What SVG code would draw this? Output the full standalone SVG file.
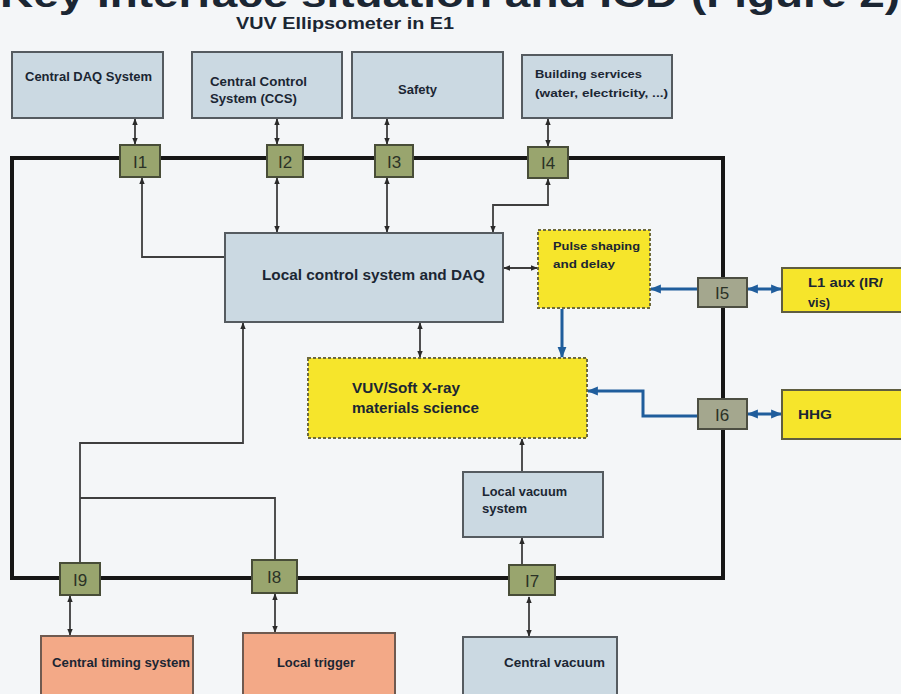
<svg xmlns="http://www.w3.org/2000/svg" width="901" height="694" viewBox="0 0 901 694">
<defs>
<marker id="ah" viewBox="0 0 10 10" refX="9" refY="5" markerWidth="7" markerHeight="7" markerUnits="userSpaceOnUse" orient="auto-start-reverse"><path d="M0,1 L10,5 L0,9 z" fill="#2a2a2a"/></marker>
<marker id="bh" viewBox="0 0 10 10" refX="9" refY="5" markerWidth="11" markerHeight="11" markerUnits="userSpaceOnUse" orient="auto-start-reverse"><path d="M0,1 L10,5 L0,9 z" fill="#1f5d9c"/></marker>
<style>
.t{font-family:"Liberation Sans",Arial,sans-serif;font-weight:bold;fill:#1b2633}
.gb{fill:#cbd9e2;stroke:#555b60;stroke-width:2}
.yb{fill:#f6e52b;stroke:#6e6a3c;stroke-width:2;stroke-dasharray:3 2}
.ys{fill:#f6e52b;stroke:#5f5d40;stroke-width:2}
.ob{fill:#f3a987;stroke:#6f5a50;stroke-width:2}
.ig{fill:#99a56e;stroke:#484d38;stroke-width:2}
.ip{fill:#a4a78e;stroke:#4c4e42;stroke-width:2}
.il{font-family:"Liberation Sans",Arial,sans-serif;font-size:17px;fill:#2b3226;text-anchor:middle}
.bus{fill:none;stroke:#161616;stroke-width:4}
.c{fill:none;stroke:#3e3e3e;stroke-width:1.8}
.cb{fill:none;stroke:#1f5d9c;stroke-width:3}
</style>
</defs>
<rect width="901" height="694" fill="#f4f6f8"/>
<text class="t" x="0" y="7" font-size="36" textLength="900" lengthAdjust="spacingAndGlyphs" fill="#222">Key Interface situation and ICD (Figure 2)</text>
<text class="t" x="236" y="29" font-size="17" textLength="218" lengthAdjust="spacingAndGlyphs">VUV Ellipsometer in E1</text>

<g id="connectors">
<path class="bus" d="M12,158 H723 V578 H12 Z"/>
<line class="c" x1="135" y1="119" x2="135" y2="144" marker-start="url(#ah)" marker-end="url(#ah)"/>
<line class="c" x1="277" y1="119" x2="277" y2="144" marker-start="url(#ah)" marker-end="url(#ah)"/>
<line class="c" x1="387" y1="119" x2="387" y2="144" marker-start="url(#ah)" marker-end="url(#ah)"/>
<line class="c" x1="548" y1="119" x2="548" y2="146" marker-start="url(#ah)" marker-end="url(#ah)"/>
<path class="c" d="M225,257 H142 V178" marker-end="url(#ah)"/>
<line class="c" x1="277" y1="178" x2="277" y2="232" marker-start="url(#ah)" marker-end="url(#ah)"/>
<line class="c" x1="387" y1="178" x2="387" y2="232" marker-start="url(#ah)" marker-end="url(#ah)"/>
<path class="c" d="M548,179 V205 H493 V232" marker-start="url(#ah)" marker-end="url(#ah)"/>
<line class="c" x1="504" y1="268" x2="537" y2="268" marker-start="url(#ah)" marker-end="url(#ah)"/>
<line class="c" x1="420" y1="323" x2="420" y2="357" marker-start="url(#ah)" marker-end="url(#ah)"/>
<line class="cb" x1="698" y1="289" x2="651" y2="289" marker-end="url(#bh)"/>
<line class="cb" x1="748" y1="289" x2="781" y2="289" marker-start="url(#bh)" marker-end="url(#bh)"/>
<line class="cb" x1="562" y1="309" x2="562" y2="357" marker-end="url(#bh)"/>
<path class="cb" d="M698,416 H643 V391 H588" marker-end="url(#bh)"/>
<line class="cb" x1="748" y1="414" x2="781" y2="414" marker-start="url(#bh)" marker-end="url(#bh)"/>
<line class="c" x1="522" y1="471" x2="522" y2="439" marker-end="url(#ah)"/>
<line class="c" x1="522" y1="564" x2="522" y2="538" marker-end="url(#ah)"/>
<line class="c" x1="529" y1="597" x2="529" y2="636" marker-start="url(#ah)" marker-end="url(#ah)"/>
<path class="c" d="M80,563 V443 H243 V323" marker-end="url(#ah)"/>
<path class="c" d="M80,498 H275 V560"/>
<line class="c" x1="70" y1="596" x2="70" y2="635" marker-start="url(#ah)" marker-end="url(#ah)"/>
<line class="c" x1="275" y1="594" x2="275" y2="632" marker-start="url(#ah)" marker-end="url(#ah)"/>
</g>

<g id="central-daq"><rect class="gb" x="12" y="52" width="151" height="66"/><text class="t" x="25" y="81" font-size="12" textLength="127" lengthAdjust="spacingAndGlyphs">Central DAQ System</text></g>
<g id="ccs"><rect class="gb" x="192" y="52" width="150" height="66"/><text class="t" x="210" y="86" font-size="12" textLength="97" lengthAdjust="spacingAndGlyphs">Central Control</text><text class="t" x="210" y="103" font-size="12" textLength="87" lengthAdjust="spacingAndGlyphs">System (CCS)</text></g>
<g id="safety"><rect class="gb" x="352" y="52" width="151" height="66"/><text class="t" x="398" y="94" font-size="12" textLength="39" lengthAdjust="spacingAndGlyphs">Safety</text></g>
<g id="building"><rect class="gb" x="522" y="55" width="150" height="63"/><text class="t" x="535" y="78" font-size="11" textLength="107" lengthAdjust="spacingAndGlyphs">Building services</text><text class="t" x="535" y="97" font-size="11" textLength="133" lengthAdjust="spacingAndGlyphs">(water, electricity, ...)</text></g>

<g id="I1"><rect class="ig" x="120" y="145" width="40" height="32"/><text class="il" x="140" y="168">I1</text></g>
<g id="I2"><rect class="ig" x="267" y="145" width="36" height="32"/><text class="il" x="285" y="168">I2</text></g>
<g id="I3"><rect class="ig" x="375" y="145" width="38" height="32"/><text class="il" x="394" y="168">I3</text></g>
<g id="I4"><rect class="ig" x="528" y="147" width="40" height="31"/><text class="il" x="548" y="169">I4</text></g>

<g id="local-control"><rect class="gb" x="225" y="233" width="278" height="89"/><text class="t" x="262" y="280" font-size="14" textLength="223" lengthAdjust="spacingAndGlyphs">Local control system and DAQ</text></g>
<g id="pulse"><rect class="yb" x="538" y="230" width="112" height="78"/><text class="t" x="553" y="250" font-size="11" textLength="87" lengthAdjust="spacingAndGlyphs">Pulse shaping</text><text class="t" x="553" y="268" font-size="11" textLength="62" lengthAdjust="spacingAndGlyphs">and delay</text></g>

<g id="I5"><rect class="ip" x="698" y="278" width="49" height="29"/><text class="il" x="722" y="299" fill="#3b3f36">I5</text></g>
<g id="l1aux"><rect class="ys" x="782" y="268" width="125" height="44"/><text class="t" x="808" y="287" font-size="13" textLength="75" lengthAdjust="spacingAndGlyphs">L1 aux (IR/</text><text class="t" x="808" y="307" font-size="13" textLength="22" lengthAdjust="spacingAndGlyphs">vis)</text></g>

<g id="vuv"><rect class="yb" x="308" y="358" width="279" height="80"/><text class="t" x="352" y="393" font-size="14" textLength="108" lengthAdjust="spacingAndGlyphs">VUV/Soft X-ray</text><text class="t" x="352" y="413" font-size="14" textLength="127" lengthAdjust="spacingAndGlyphs">materials science</text></g>

<g id="I6"><rect class="ip" x="698" y="399" width="49" height="30"/><text class="il" x="722" y="421" fill="#3b3f36">I6</text></g>
<g id="hhg"><rect class="ys" x="782" y="390" width="125" height="49"/><text class="t" x="798" y="419" font-size="13" textLength="34" lengthAdjust="spacingAndGlyphs">HHG</text></g>

<g id="local-vacuum"><rect class="gb" x="463" y="472" width="140" height="65"/><text class="t" x="482" y="496" font-size="12" textLength="85" lengthAdjust="spacingAndGlyphs">Local vacuum</text><text class="t" x="482" y="513" font-size="12" textLength="45" lengthAdjust="spacingAndGlyphs">system</text></g>

<g id="I7"><rect class="ig" x="509" y="565" width="46" height="30"/><text class="il" x="532" y="587">I7</text></g>
<g id="I8"><rect class="ig" x="252" y="560" width="45" height="33"/><text class="il" x="274" y="583">I8</text></g>
<g id="I9"><rect class="ig" x="60" y="563" width="40" height="32"/><text class="il" x="80" y="586">I9</text></g>

<g id="central-vacuum"><rect class="gb" x="463" y="637" width="154" height="66"/><text class="t" x="504" y="667" font-size="12" textLength="101" lengthAdjust="spacingAndGlyphs">Central vacuum</text></g>
<g id="central-timing"><rect class="ob" x="41" y="636" width="152" height="66"/><text class="t" x="52" y="667" font-size="12" textLength="138" lengthAdjust="spacingAndGlyphs">Central timing system</text></g>
<g id="local-trigger"><rect class="ob" x="243" y="633" width="152" height="69"/><text class="t" x="277" y="667" font-size="12" textLength="78" lengthAdjust="spacingAndGlyphs">Local trigger</text></g>
</svg>
